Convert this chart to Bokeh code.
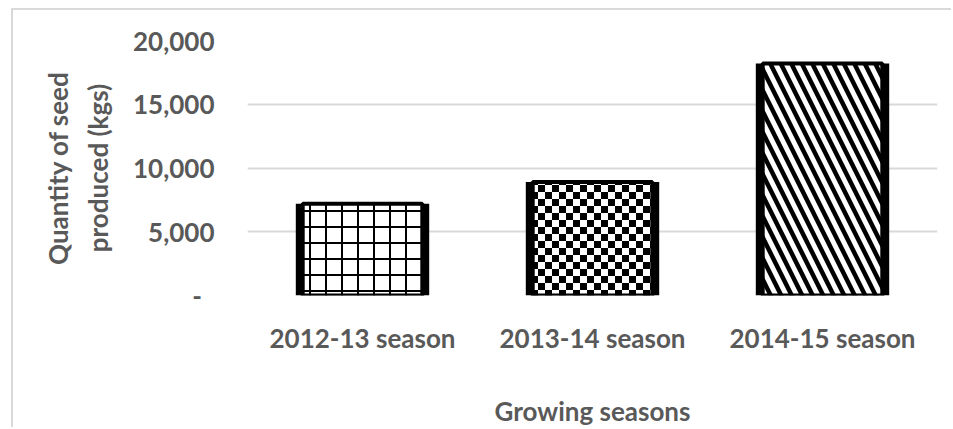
import base64
from bokeh.plotting import figure
from bokeh.models import FixedTicker, Range1d, FactorRange, ImageURLTexture, ColumnDataSource
from bokeh.core.properties import value
from bokeh.embed import file_html
from bokeh.resources import INLINE

seasons = ["2012-13 season", "2013-14 season", "2014-15 season"]
quantity = [7200, 8900, 18200]
patterns = ["+", "checker", "\\"]
y_ticks = [0, 5000, 10000, 15000, 20000]
y_tick_labels = ["-\u00a0\u00a0", "5,000", "10,000", "15,000", "20,000"]

FONT = "Lato"
TXT = "#595959"
FS = "26px"

src = ColumnDataSource(dict(x=seasons, top=quantity, pat=patterns))

p = figure(width=940, height=419, x_range=FactorRange(*seasons, range_padding=0),
           y_range=Range1d(0, 20000), output_backend="svg", toolbar_location=None,
           min_border_left=234, min_border_right=16, min_border_top=30, min_border_bottom=128)
p.styles = {"margin-left": "11px", "margin-top": "8px",
            "border-left": "2px solid #d9d9d9", "border-top": "2px solid #d9d9d9"}
p.outline_line_color = None

tile = ('<svg xmlns="http://www.w3.org/2000/svg" width="14" height="14">'
        '<rect width="14" height="14" fill="white"/>'
        '<rect width="7" height="7" fill="black"/>'
        '<rect x="7" y="7" width="7" height="7" fill="black"/></svg>')
checker = ImageURLTexture(url="data:image/svg+xml;base64," + base64.b64encode(tile.encode()).decode())

# outer black frame of each bar
p.vbar(x="x", top="top", bottom=0, width=0.58, source=src, fill_color="black", line_color=None)

# patterned inner bars
for s, q, pat in zip(seasons, quantity, patterns):
    d = ColumnDataSource(dict(x=[s], top=[q]))
    if pat == "checker":
        kw = dict(hatch_pattern=value("checker"), hatch_extra={"checker": checker}, hatch_scale=14)
    elif pat == "+":
        kw = dict(hatch_pattern=value("+"), hatch_scale=16, hatch_weight=2)
    else:
        kw = dict(hatch_pattern=value("\\"), hatch_scale=21, hatch_weight=4.5)
    p.vbar(x="x", top="top", bottom=0, width=0.52, source=d, fill_color="white",
           line_color="black", line_width=4, hatch_color="black", **kw)

p.xgrid.grid_line_color = None
p.ygrid.grid_line_color = "#d9d9d9"
p.ygrid.grid_line_width = 2

p.yaxis.ticker = FixedTicker(ticks=y_ticks)
p.yaxis.major_label_overrides = {t: l for t, l in zip(y_ticks, y_tick_labels)}
p.yaxis.axis_line_color = None
p.yaxis.major_tick_line_color = None
p.yaxis.minor_tick_line_color = None
p.yaxis.major_label_standoff = 27
p.yaxis.axis_label = "Quantity of seed\nproduced (kgs)"
p.yaxis.axis_label_standoff = 16
p.yaxis.axis_label_text_line_height = 1.25

p.xaxis.axis_line_color = None
p.xaxis.major_tick_line_color = None
p.xaxis.major_label_standoff = 20
p.xaxis.axis_label = "Growing seasons"
p.xaxis.axis_label_standoff = 38

for ax in (p.xaxis[0], p.yaxis[0]):
    ax.major_label_text_font = FONT
    ax.major_label_text_font_style = "bold"
    ax.major_label_text_font_size = FS
    ax.major_label_text_color = TXT
    ax.axis_label_text_font = FONT
    ax.axis_label_text_font_style = "bold"
    ax.axis_label_text_font_size = FS
    ax.axis_label_text_color = TXT

open("out.html", "w").write(file_html(p, INLINE))
